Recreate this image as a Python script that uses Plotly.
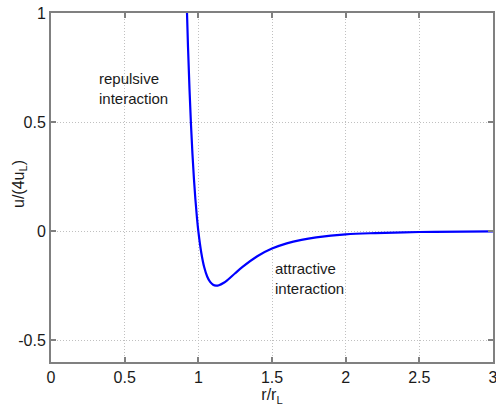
import plotly.graph_objects as go

# values
r_vals = [0.92, 0.93, 0.94, 0.95, 0.96, 0.97, 0.98, 0.99, 1.00, 1.02, 1.04, 1.06,
          1.08, 1.10, 1.12, 1.14, 1.17, 1.20, 1.25, 1.30, 1.40, 1.50, 1.60, 1.70,
          1.80, 2.00, 2.20, 2.50, 2.80, 3.00]
u_vals = [1.071, 0.843, 0.652, 0.490, 0.355, 0.241, 0.146, 0.066, 0.000, -0.099,
          -0.166, -0.208, -0.233, -0.246, -0.250, -0.248, -0.238, -0.223, -0.193,
          -0.164, -0.115, -0.080, -0.056, -0.040, -0.029, -0.015, -0.009, -0.004,
          -0.002, -0.001]

x_ticks = [0, 0.5, 1, 1.5, 2, 2.5, 3]
x_labels = ["0", "0.5", "1", "1.5", "2", "2.5", "3"]
y_ticks = [-0.5, 0, 0.5, 1]
y_labels = ["-0.5", "0", "0.5", "1"]

FAM = "Liberation Sans, Arial, sans-serif"
TXT = "#1a1a1a"

fig = go.Figure()
fig.add_trace(go.Scatter(x=r_vals, y=u_vals, mode="lines",
                         line=dict(color="#0000ff", width=2.2, shape="spline"),
                         showlegend=False, cliponaxis=True))

font = dict(family=FAM, size=15, color=TXT)

fig.add_annotation(x=0.31, y=0.655, xref="x", yref="y", text="repulsive<br>interaction",
                   showarrow=False, xanchor="left", yanchor="middle", align="left",
                   font=font)
fig.add_annotation(x=1.505, y=-0.215, xref="x", yref="y", text="attractive<br>interaction",
                   showarrow=False, xanchor="left", yanchor="middle", align="left",
                   font=font)
# y-axis title
fig.add_annotation(x=0, y=0.51, xref="paper", yref="paper", text="u/(4u<sub>L</sub>)",
                   showarrow=False, xanchor="center", yanchor="middle", textangle=-90,
                   xshift=-32, font=dict(family=FAM, size=16, color=TXT))

axis_common = dict(showline=True, linecolor="#808080", linewidth=2, mirror="ticks",
                   ticks="inside", ticklen=5, tickcolor="#808080", tickwidth=1.5,
                   showgrid=True, gridcolor="#c0c0c0", griddash="1px,2px", gridwidth=1,
                   zeroline=False, automargin=False, ticklabeloverflow="allow",
                   tickfont=dict(family=FAM, size=16, color=TXT))

fig.update_layout(
    width=496, height=407,
    margin=dict(l=51, r=3, t=13, b=45),
    paper_bgcolor="white", plot_bgcolor="white",
    xaxis=dict(range=[0, 3], tickvals=x_ticks, ticktext=x_labels,
               title=dict(text="r/r<sub>L</sub>", standoff=0,
                          font=dict(family=FAM, size=16, color=TXT)),
               **axis_common),
    yaxis=dict(range=[-0.6, 1], tickvals=y_ticks, ticktext=y_labels,
               **axis_common),
)

fig.write_html("out.html")
